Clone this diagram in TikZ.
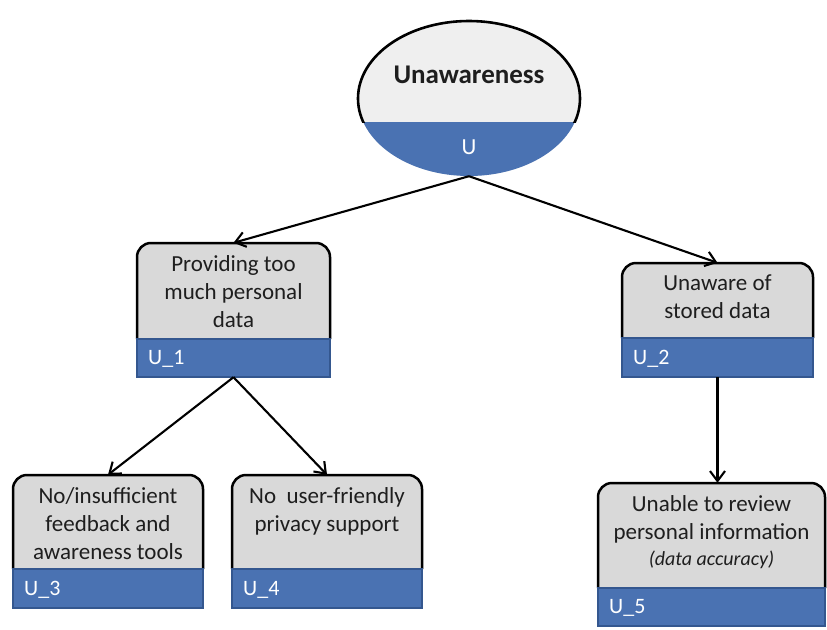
\documentclass[tikz,border=0pt]{standalone}
\usepackage{fontspec}
\setmainfont{Carlito}
\usetikzlibrary{arrows.meta,calc,fit,shapes.geometric}
\definecolor{boxgray}{HTML}{D9D9D9}
\definecolor{topgray}{HTML}{EFEFEF}
\definecolor{bandblue}{HTML}{4A72B2}
\definecolor{bandedge}{HTML}{34578F}
\definecolor{inktext}{HTML}{1E1E1E}
\tikzset{
  boxbody/.style={draw=black, fill=boxgray, line width=2.5pt},
  band/.style={draw=bandedge, fill=bandblue, line width=1.2pt},
  boxtext/.style={inner sep=0pt, align=center, text=inktext,
    font=\fontsize{23}{28}\selectfont},
  bandlabel/.style={inner sep=0pt, anchor=west, text=white,
    font=\fontsize{22}{26}\selectfont},
  conn/.style={line width=2.1pt, -{Straight Barb[length=10pt,width=15pt,line width=2.1pt]}},
}
% name, x1, y1 (top), x2, ysplit, y2 (bottom), text, label
\newcommand{\tbox}[8]{%
  \path[boxbody] (#2,#5) [rounded corners=14pt] -- (#2,#3) -- (#4,#3) [sharp corners] -- (#4,#5);
  \path[band] (#2,#5) rectangle (#4,#6);
  \node[fit={(#2,#3)(#4,#6)}, inner sep=0pt] (#1) {};
  \node[boxtext, anchor=north] (#1-t) at ({(#2+#4)/2},{#3+12}) {#7};
  \node[bandlabel] (#1-l) at ({#2+11},{(#5+#6)/2+1}) {#8};
}
\begin{document}
\begin{tikzpicture}[x=1pt,y=-1pt]
\useasboundingbox (0,0) rectangle (827,629);
% top ellipse
\node[ellipse, minimum width=222pt, minimum height=155pt, inner sep=0pt, fill=topgray] (top) at (469,98.5) {};
\begin{scope}
  \clip (469,98.5) ellipse [x radius=111, y radius=77.5];
  \fill[bandblue] (340,122) rectangle (600,190);
\end{scope}
\begin{scope}
  \clip (340,0) rectangle (600,122);
  \draw[line width=2.6pt] (469,98.5) ellipse [x radius=111, y radius=77.5];
\end{scope}
\node[inner sep=0pt, text=inktext, font=\fontsize{27}{32}\selectfont\bfseries] (top-t) at (469,75) {Unawareness};
\node[inner sep=0pt, text=white, font=\fontsize{23}{28}\selectfont] (top-l) at (469,147) {U};
% boxes
\tbox{u1}{137}{243}{330}{339}{377}{Providing too\\much personal\\data}{U\_1}
\tbox{u2}{622}{263}{813}{338}{377}{Unaware of\\stored data}{U\_2}
\tbox{u3}{13}{475}{203}{569}{608}{No/insufficient\\feedback and\\awareness tools}{U\_3}
\tbox{u4}{232}{475}{422}{569}{608}{No\ \ user-friendly\\privacy support}{U\_4}
\tbox{u5}{598}{483}{825}{588}{626}{Unable to review\\personal information\\[-2pt]{\itshape\fontsize{20}{26}\selectfont (data accuracy)}}{U\_5}
% connectors
\draw[conn] (top.south) -- (u1.north);
\draw[conn] (top.south) -- (u2.north);
\draw[conn] (u1.south) -- (u3.north);
\draw[conn] (u1.south) -- (u4.north);
\draw[conn] (u2.south) -- (u2.south |- u5.north);
\end{tikzpicture}
\end{document}
